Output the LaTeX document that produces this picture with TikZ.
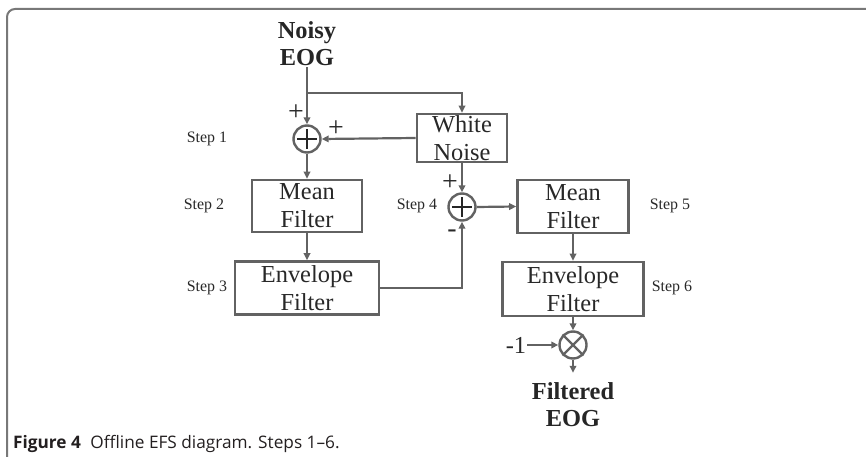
\documentclass[tikz,border=0pt]{standalone}
\usepackage{fontspec}
\setmainfont{Liberation Serif}
\newfontfamily\capfont{Open Sans}
\usetikzlibrary{arrows.meta}
\definecolor{ln}{RGB}{98,98,98}
\definecolor{tx}{RGB}{40,40,40}
\definecolor{frm}{RGB}{120,120,120}
\begin{document}
\begin{tikzpicture}[x=1bp,y=-1bp,
  conn/.style={draw=ln,line width=2.2bp,-{Triangle[length=7bp,width=6.5bp]}},
  blk/.style={draw=ln,line width=2.6bp,text=tx,align=center,inner sep=0pt,
    font=\fontsize{24.5}{28}\selectfont},
  sumc/.style={draw=ln,line width=2.4bp,circle,minimum size=27bp,inner sep=0pt},
  steplbl/.style={text=tx,font=\fontsize{16}{18}\selectfont,inner sep=0pt},
  sgn/.style={text=tx,font=\fontsize{28}{30}\selectfont,inner sep=0pt},
  io/.style={text=black!85,align=center,inner sep=1bp,
    font=\fontsize{24.5}{27}\selectfont\bfseries}]
\useasboundingbox (0,0) rectangle (866,457);
% frame
\draw[frm,line width=2bp,rounded corners=8bp] (7,460) -- (7,9) -- (870,9);
% input / output
\node[io] (noisy) at (307,44) {Noisy\\EOG};
\node[io] (filt) at (573,405) {Filtered\\EOG};
% blocks
\node[blk,minimum width=90bp,minimum height=48bp] (wn) at (462,138) {White\\Noise};
\node[blk,minimum width=110bp,minimum height=52bp] (mf1) at (307,206) {Mean\\Filter};
\node[blk,minimum width=144bp,minimum height=53bp] (ef1) at (307,288) {Envelope\\Filter};
\node[blk,minimum width=111bp,minimum height=53bp] (mf2) at (573,206.5) {Mean\\Filter};
\node[blk,minimum width=141bp,minimum height=54bp] (ef2) at (573,289) {Envelope\\Filter};
% summing / multiplying junctions
\node[sumc] (s1) at (307,139) {};
\node[sumc] (s2) at (462,207) {};
\node[sumc] (mu) at (573,345) {};
\foreach \c in {s1,s2}{
  \draw[black!85,line width=2.4bp] ([xshift=-10bp]\c.center) -- ([xshift=10bp]\c.center);
  \draw[black!85,line width=2.4bp] ([yshift=-10bp]\c.center) -- ([yshift=10bp]\c.center);
}
\draw[ln,line width=2.2bp] (mu.45) -- (mu.225) (mu.135) -- (mu.315);
% signs
\node[sgn] (p1) at (296,113) {+};
\node[sgn] (p2) at (336,129) {+};
\node[sgn] (p3) at (450,183) {+};
\node[sgn] (m4) at (452,234) {-};
\node[blk,draw=none] (neg) at (516,345) {-1};
% step labels
\node[steplbl] (st1) at (207,139) {Step 1};
\node[steplbl] (st2) at (204,206) {Step 2};
\node[steplbl] (st3) at (207,288) {Step 3};
\node[steplbl] (st4) at (417,206) {Step 4};
\node[steplbl] (st5) at (670,206) {Step 5};
\node[steplbl] (st6) at (672,288) {Step 6};
% connectors
\coordinate (br) at (307,93);
\draw[conn] (noisy.south) -- (s1.north);
\draw[conn] (br) -| (wn.north);
\draw[conn] (wn.west) -- (s1.east);
\draw[conn] (s1.south) -- (mf1.north);
\draw[conn] (mf1.south) -- (ef1.north);
\draw[conn] (ef1.east) -| (s2.south);
\draw[conn] (wn.south) -- (s2.north);
\draw[conn] (s2.east) -- (mf2.west);
\draw[conn] (mf2.south) -- (ef2.north);
\draw[conn] (ef2.south) -- (mu.north);
\draw[conn] (neg.east) -- (mu.west);
\draw[conn,shorten >=9bp] (mu.south) -- (filt.north);
% caption
\node[anchor=base west,inner sep=0pt,text={rgb,255:red,35;green,31;blue,32},
  font=\capfont\fontsize{17.3}{19}\selectfont] (cap) at (13,448)
  {\textbf{Figure 4}\hspace{0.55em}Offline EFS diagram. Steps 1–6.};
\end{tikzpicture}
\end{document}
